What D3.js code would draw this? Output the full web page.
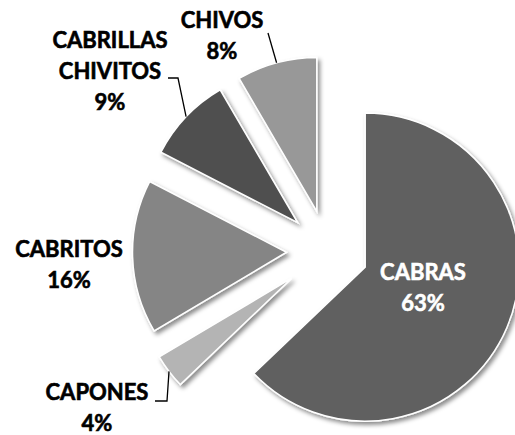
<!DOCTYPE html>
<html>
<head>
<meta charset="utf-8">
<script src="https://cdn.jsdelivr.net/npm/d3@7/dist/d3.min.js"></script>
<style>
  html, body { margin: 0; padding: 0; background: #ffffff; }
  svg { display: block; }
</style>
</head>
<body>
<div id="chart"></div>
<script>
// ---- data ----
const categories = ["CABRAS", "CAPONES", "CABRITOS", "CABRILLAS CHIVITOS", "CHIVOS"];
const values = [62.8, 3.6, 16.1, 9.0, 8.4];

// ---- styles / layout ----
const sliceColors = ["#606060", "#b4b4b4", "#858585", "#505050", "#989898"];
const W = 515, H = 435;
const center = [327.5, 251];
const R = 154;
const explode = [41, 45, 41, 41, 41];
const labelLayout = [
  { x: 423, y: 280, color: "#ffffff", knee: null },
  { x: 97, y: 400, color: "#000000", knee: [[155, 401], [167, 401]] },
  { x: 69, y: 257, color: "#000000", knee: null },
  { x: 110, y: 48, color: "#000000", knee: [[168, 78], [178, 78]] },
  { x: 222, y: 28, color: "#000000", knee: [[268, 33]] }
];
const lineGap = 31;

const svg = d3.select("#chart").append("svg")
  .attr("width", W).attr("height", H);

const defs = svg.append("defs");
const f = defs.append("filter").attr("id", "shadow")
  .attr("x", "-20%").attr("y", "-20%").attr("width", "140%").attr("height", "140%");
f.append("feDropShadow")
  .attr("dx", 2.5).attr("dy", 3).attr("stdDeviation", 2.2)
  .attr("flood-color", "#000").attr("flood-opacity", 0.45);

const total = d3.sum(values);
const pie = d3.pie().sort(null).value(d => d).startAngle(0).endAngle(2 * Math.PI);
const arcs = pie(values);
const arcGen = d3.arc().innerRadius(0).outerRadius(R);

function offset(a, i) {
  const m = (a.startAngle + a.endAngle) / 2;
  return [center[0] + explode[i] * Math.sin(m), center[1] - explode[i] * Math.cos(m)];
}

const slices = svg.append("g");
arcs.forEach((a, i) => {
  const [ox, oy] = offset(a, i);
  slices.append("path")
    .attr("d", arcGen(a))
    .attr("transform", `translate(${ox},${oy})`)
    .attr("fill", sliceColors[i])
    .attr("stroke", "#ffffff")
    .attr("stroke-width", 1.5)
    .attr("stroke-linejoin", "miter")
    .attr("filter", "url(#shadow)");
});

// leader lines
const leaders = svg.append("g");
arcs.forEach((a, i) => {
  const L = labelLayout[i];
  if (!L.knee) return;
  const [ox, oy] = offset(a, i);
  const m = (a.startAngle + a.endAngle) / 2;
  const end = [ox + R * Math.sin(m), oy - R * Math.cos(m)];
  const pts = L.knee.concat([end]);
  leaders.append("path")
    .attr("d", d3.line()(pts))
    .attr("fill", "none")
    .attr("stroke", "#000")
    .attr("stroke-width", 1.3);
});

// labels
const labels = svg.append("g")
  .attr("font-family", "Lato, 'Open Sans', sans-serif")
  .attr("font-weight", "bold")
  .attr("font-size", 22)
  .attr("text-anchor", "middle");
arcs.forEach((a, i) => {
  const L = labelLayout[i];
  const lines = categories[i].split(" ");
  lines.push(Math.round(values[i] / total * 100) + "%");
  const t = labels.append("text").attr("fill", L.color)
    .attr("stroke", L.color).attr("stroke-width", 0.6);
  lines.forEach((s, k) => {
    t.append("tspan").attr("x", L.x).attr("y", L.y + k * lineGap).text(s);
  });
});
</script>
</body>
</html>
